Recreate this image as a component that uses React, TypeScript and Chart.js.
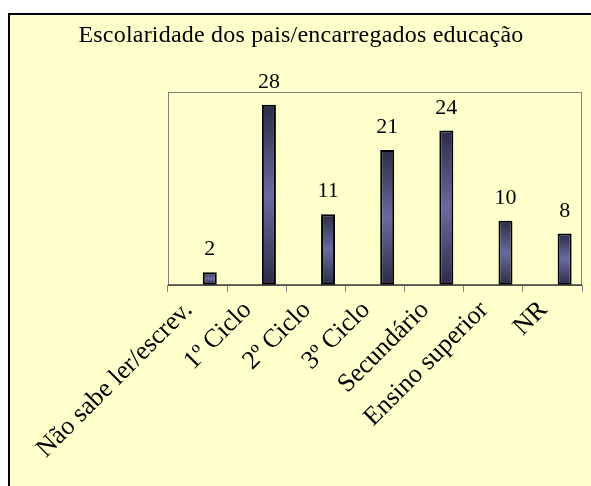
import React, { useEffect, useRef } from "react";
import { Chart, registerables } from "chart.js";

Chart.register(...registerables);

const TITLE = "Escolaridade dos pais/encarregados educação";
const categories = [
  "Não sabe ler/escrev.",
  "1º Ciclo",
  "2º Ciclo",
  "3º Ciclo",
  "Secundário",
  "Ensino superior",
  "NR",
];
const values = [2, 28, 11, 21, 24, 10, 8];
const emptySeries = [null, null, null, null, null, null, null];
const yMin = 0;
const yMax = 30;

const FONT = "'Liberation Serif', 'Times New Roman', serif";

export default function App() {
  const ref = useRef<HTMLCanvasElement | null>(null);

  useEffect(() => {
    const canvas = ref.current;
    if (!canvas) return;

    const framePlugin = {
      id: "frame",
      beforeDatasetsDraw(chart: any) {
        const { ctx, chartArea: a } = chart;
        ctx.save();
        ctx.strokeStyle = "#808080";
        ctx.lineWidth = 1;
        ctx.strokeRect(a.left + 0.5, a.top + 0.5, a.right - a.left - 1, a.bottom - a.top);
        ctx.restore();
      },
      afterDatasetsDraw(chart: any) {
        const { ctx, chartArea: a } = chart;
        ctx.save();
        ctx.strokeStyle = "#404040";
        ctx.lineWidth = 1.5;
        ctx.beginPath();
        ctx.moveTo(a.left, a.bottom);
        ctx.lineTo(a.right, a.bottom);
        ctx.stroke();
        // data labels
        const meta = chart.getDatasetMeta(1);
        ctx.fillStyle = "#000";
        ctx.font = `22px ${FONT}`;
        ctx.textAlign = "center";
        ctx.textBaseline = "alphabetic";
        meta.data.forEach((el: any, i: number) => {
          ctx.fillText(String(values[i]), el.x, el.y - 17);
        });
        // category labels
        const xs = chart.scales.x;
        ctx.font = `26px ${FONT}`;
        ctx.textAlign = "right";
        ctx.textBaseline = "middle";
        categories.forEach((label, i) => {
          const x = xs.getPixelForValue(i);
          ctx.save();
          ctx.translate(x - 9, a.bottom + 21);
          ctx.rotate(-Math.PI / 4);
          ctx.fillText(label, 0, 0);
          ctx.restore();
        });
        // title
        ctx.font = `24px ${FONT}`;
        (ctx as any).letterSpacing = "0.2px";
        ctx.textAlign = "center";
        ctx.textBaseline = "alphabetic";
        ctx.fillText(TITLE, 291, 27);
        ctx.restore();
      },
    };

    const grad = (context: any) => {
      const chart = context.chart;
      const y = chart.scales?.y;
      const v = context.dataset.data[context.dataIndex];
      if (!y || v == null || !chart.chartArea) return "#5a5a8a";
      const top = y.getPixelForValue(v);
      const bottom = y.getPixelForValue(0);
      if (!isFinite(top) || !isFinite(bottom) || top === bottom) return "#5a5a8a";
      const g = chart.ctx.createLinearGradient(0, top, 0, bottom);
      g.addColorStop(0, "#2c2c45");
      g.addColorStop(0.5, "#6a6aa0");
      g.addColorStop(1, "#2c2c45");
      return g;
    };

    const chart = new Chart(canvas, {
      type: "bar",
      data: {
        labels: categories,
        datasets: [
          {
            data: emptySeries as any,
            backgroundColor: "transparent",
            borderWidth: 0,
            categoryPercentage: 0.825,
            barPercentage: 0.574,
          },
          {
            data: values,
            backgroundColor: grad,
            borderColor: "#000",
            borderWidth: 2,
            borderSkipped: false,
            categoryPercentage: 0.825,
            barPercentage: 0.574,
          },
        ],
      },
      options: {
        responsive: false,
        animation: false,
        events: [],
        layout: { padding: { left: 158, right: 9, top: 77, bottom: 0 } },
        plugins: {
          legend: { display: false },
          title: { display: false },
          tooltip: { enabled: false },
        },
        scales: {
          x: {
            offset: true,
            grid: {
              display: true,
              offset: true,
              drawOnChartArea: false,
              drawTicks: true,
              tickLength: 7,
              color: "#808080",
              lineWidth: 1,
            },
            border: { display: false },
            ticks: { display: false },
            afterFit(scale: any) {
              scale.height = 201;
            },
          },
          y: {
            display: false,
            min: yMin,
            max: yMax,
          },
        },
      },
      plugins: [framePlugin],
    });

    return () => chart.destroy();
  }, []);

  return (
    <div
      style={{
        position: "absolute",
        left: 8,
        top: 13,
        width: 581,
        height: 471,
        borderLeft: "2px solid #000",
        borderTop: "2px solid #000",
        background: "#FFFFCC",
        overflow: "hidden",
      }}
    >
      <canvas ref={ref} width={581} height={471} style={{ display: "block" }} />
    </div>
  );
}
